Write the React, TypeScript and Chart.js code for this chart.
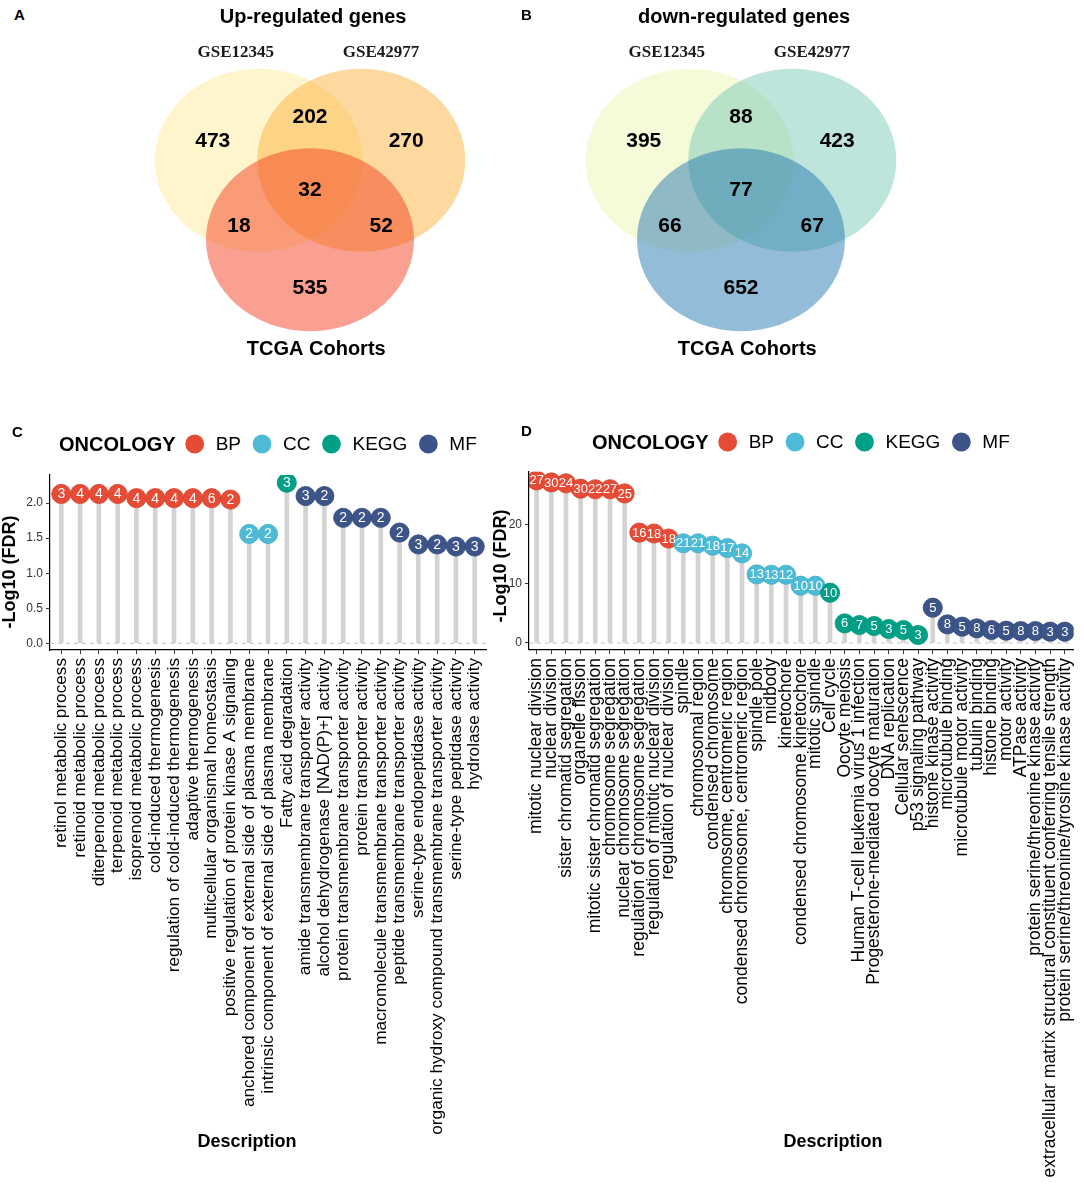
import React, { useEffect, useRef } from "react";
import { Chart, registerables } from "chart.js";
Chart.register(...registerables);

const SANS = '"Liberation Sans", Arial, Helvetica, sans-serif';
const SERIF = '"Liberation Serif", "Times New Roman", serif';

// ---------- Venn data ----------
const vennSetNames = ["GSE12345", "GSE42977", "TCGA Cohorts"];
// region order: only1, 1∩2, only2, 1∩2∩3, 1∩3, 2∩3, only3
const upRegionCounts = [473, 202, 270, 32, 18, 52, 535];
const downRegionCounts = [395, 88, 423, 77, 66, 67, 652];

// ---------- Enrichment data ----------
const categories = ["BP", "CC", "KEGG", "MF"];
const categoryColors = ["#E64B35", "#4DBBD5", "#00A087", "#3C5488"];
const categoryEdge = ["#D8402C", "#43AFC9", "#00937B", "#334A7C"];

const upTerms = [
  "retinol metabolic process",
  "retinoid metabolic process",
  "diterpenoid metabolic process",
  "terpenoid metabolic process",
  "isoprenoid metabolic process",
  "cold-induced thermogenesis",
  "regulation of cold-induced thermogenesis",
  "adaptive thermogenesis",
  "multicellular organismal homeostasis",
  "positive regulation of protein kinase A signaling",
  "anchored component of external side of plasma membrane",
  "intrinsic component of external side of plasma membrane",
  "Fatty acid degradation",
  "amide transmembrane transporter activity",
  "alcohol dehydrogenase [NAD(P)+] activity",
  "protein transmembrane transporter activity",
  "protein transporter activity",
  "macromolecule transmembrane transporter activity",
  "peptide transmembrane transporter activity",
  "serine-type endopeptidase activity",
  "organic hydroxy compound transmembrane transporter activity",
  "serine-type peptidase activity",
  "hydrolase activity",
];
const upCategory = [
  "BP", "BP", "BP", "BP", "BP", "BP", "BP", "BP", "BP", "BP",
  "CC", "CC",
  "KEGG",
  "MF", "MF", "MF", "MF", "MF", "MF", "MF", "MF", "MF", "MF",
];
const upLog10FDR = [
  2.13, 2.13, 2.13, 2.13, 2.07, 2.07, 2.07, 2.07, 2.07, 2.05,
  1.56, 1.56,
  2.29,
  2.1, 2.1, 1.79, 1.79, 1.79, 1.58, 1.41, 1.41, 1.38, 1.38,
];
const upGeneCount = [3, 4, 4, 4, 4, 4, 4, 4, 6, 2, 2, 2, 3, 3, 2, 2, 2, 2, 2, 3, 2, 3, 3];

const downTerms = [
  "mitotic nuclear division",
  "nuclear division",
  "sister chromatid segregation",
  "organelle fission",
  "mitotic sister chromatid segregation",
  "chromosome segregation",
  "nuclear chromosome segregation",
  "regulation of chromosome segregation",
  "regulation of mitotic nuclear division",
  "regulation of nuclear division",
  "spindle",
  "chromosomal region",
  "condensed chromosome",
  "chromosome, centromeric region",
  "condensed chromosome, centromeric region",
  "spindle pole",
  "midbody",
  "kinetochore",
  "condensed chromosome kinetochore",
  "mitotic spindle",
  "Cell cycle",
  "Oocyte meiosis",
  "Human T-cell leukemia virus 1 infection",
  "Progesterone-mediated oocyte maturation",
  "DNA replication",
  "Cellular senescence",
  "p53 signaling pathway",
  "histone kinase activity",
  "microtubule binding",
  "microtubule motor activity",
  "tubulin binding",
  "histone binding",
  "motor activity",
  "ATPase activity",
  "protein serine/threonine kinase activity",
  "extracellular matrix structural constituent conferring tensile strength",
  "protein serine/threonine/tyrosine kinase activity",
];
const downCategory = [
  "BP", "BP", "BP", "BP", "BP", "BP", "BP", "BP", "BP", "BP",
  "CC", "CC", "CC", "CC", "CC", "CC", "CC", "CC", "CC", "CC",
  "KEGG", "KEGG", "KEGG", "KEGG", "KEGG", "KEGG", "KEGG",
  "MF", "MF", "MF", "MF", "MF", "MF", "MF", "MF", "MF", "MF",
];
const downLog10FDR = [
  27.4, 27.05, 26.9, 26.0, 25.9, 25.9, 25.2, 18.6, 18.45, 17.6,
  16.8, 16.8, 16.4, 16.0, 15.1, 11.56, 11.5, 11.5, 9.65, 9.65,
  8.47, 3.3, 3.03, 2.86, 2.36, 2.19, 1.35,
  5.95, 3.14, 2.75, 2.47, 2.19, 2.08, 2.02, 2.02, 1.91, 1.91,
];
const downGeneCount = [
  27, 30, 24, 30, 22, 27, 25, 16, 18, 18,
  21, 21, 18, 17, 14, 13, 13, 12, 10, 10,
  10, 6, 7, 5, 3, 5, 3,
  5, 8, 5, 8, 6, 5, 8, 8, 3, 3,
];

const upYTicks = [0, 0.5, 1, 1.5, 2];
const downYTicks = [0, 10, 20];

// ---------- Venn layout (unit circle coordinates) ----------
const VENN_R = 1;
const VENN_CENTERS = [
  [-0.493, 0.434],
  [0.493, 0.434],
  [0, -0.434],
];
const VENN_REGION_POS = [
  [-0.935, 0.658],
  [0, 0.921],
  [0.925, 0.658],
  [0, 0.123],
  [-0.683, -0.28],
  [0.684, -0.28],
  [0, -0.948],
];
const VENN_NAME_POS = [
  [-0.713, 1.612],
  [0.683, 1.612],
  [0.06, -1.615],
];
const VENN_TITLE_POS = [0.03, 2.01];

type VennProps = {
  left: number;
  width: number;
  height: number;
  pxX: number;
  pxY: number;
  counts: number[];
  fills: string[];
  title: string;
};

function VennChart(p: VennProps) {
  const ref = useRef<HTMLCanvasElement>(null);
  useEffect(() => {
    if (!ref.current) return;
    const xHalf = p.width / 2 / p.pxX;
    const yHalf = p.height / 2 / p.pxY;
    const vennPlugin = {
      id: "vennDraw",
      afterDatasetsDraw(chart: any) {
        const { ctx } = chart;
        const xs = chart.scales.x;
        const ys = chart.scales.y;
        ctx.save();
        const circles = chart.getDatasetMeta(0).data;
        circles.forEach((el: any, i: number) => {
          const d = chart.data.datasets[0].data[i];
          const rx = Math.abs(xs.getPixelForValue(d.x + VENN_R) - el.x);
          const ry = Math.abs(ys.getPixelForValue(d.y + VENN_R) - el.y);
          ctx.beginPath();
          ctx.ellipse(el.x, el.y, rx, ry, 0, 0, Math.PI * 2);
          ctx.fillStyle = p.fills[i];
          ctx.fill();
        });
        ctx.fillStyle = "#000";
        ctx.textAlign = "center";
        ctx.textBaseline = "middle";
        ctx.font = "bold 21px " + SANS;
        chart.getDatasetMeta(1).data.forEach((el: any, i: number) => {
          ctx.fillText(String(p.counts[i]), el.x, el.y + 1);
        });
        chart.getDatasetMeta(2).data.forEach((el: any, i: number) => {
          ctx.font = i < 2 ? "bold 17px " + SERIF : "bold 20px " + SANS;
          ctx.fillStyle = i < 2 ? "#1a1a1a" : "#000";
          ctx.fillText(vennSetNames[i], el.x, el.y + (i < 2 ? 0 : 1.5));
        });
        ctx.fillStyle = "#000";
        ctx.font = "bold 20px " + SANS;
        ctx.fillText(
          p.title,
          xs.getPixelForValue(VENN_TITLE_POS[0]),
          ys.getPixelForValue(VENN_TITLE_POS[1]) + 1
        );
        ctx.restore();
      },
    };
    const chart = new Chart(ref.current, {
      type: "scatter",
      data: {
        datasets: [
          { data: VENN_CENTERS.map(([x, y]) => ({ x, y })), pointRadius: 0 },
          { data: VENN_REGION_POS.map(([x, y]) => ({ x, y })), pointRadius: 0 },
          { data: VENN_NAME_POS.map(([x, y]) => ({ x, y })), pointRadius: 0 },
        ],
      },
      options: {
        animation: false,
        responsive: false,
        maintainAspectRatio: false,
        events: [],
        layout: { padding: 0 },
        plugins: { legend: { display: false }, tooltip: { enabled: false } },
        scales: {
          x: { type: "linear", display: false, min: -xHalf, max: xHalf },
          y: { type: "linear", display: false, min: -yHalf, max: yHalf },
        },
      },
      plugins: [vennPlugin],
    } as any);
    return () => chart.destroy();
  }, []);
  return (
    <canvas
      ref={ref}
      width={p.width}
      height={p.height}
      style={{ position: "absolute", left: p.left, top: 0, width: p.width, height: p.height }}
    />
  );
}

type LolliProps = {
  left: number;
  top: number;
  width: number;
  height: number;
  areaLeft: number;
  areaRight: number;
  areaTop: number;
  areaBottom: number;
  terms: string[];
  cats: string[];
  values: number[];
  counts: number[];
  xMin: number;
  xMax: number;
  yMin: number;
  yMax: number;
  yTicks: number[];
  yDigits: number;
  labelFont: number;
  countFont: number;
  legendX: number;
  legendY: number;
  yTitleX: number;
  yTitleY: number;
  xTitleX: number;
  xTitleY: number;
};

function LollipopChart(p: LolliProps) {
  const ref = useRef<HTMLCanvasElement>(null);
  useEffect(() => {
    if (!ref.current) return;
    const yAxisW = p.areaLeft - p.left;
    const xAxisH = p.top + p.height - p.areaBottom;
    const padTop = p.areaTop - p.top;
    const padRight = p.left + p.width - p.areaRight;
    const colors = p.cats.map((c) => categoryColors[categories.indexOf(c)]);
    const edges = p.cats.map((c) => categoryEdge[categories.indexOf(c)]);
    const pts = p.values.map((v, i) => ({ x: i, y: v }));
    const extras = {
      id: "lolliExtras",
      afterDatasetsDraw(chart: any) {
        const ctx = chart.ctx;
        const meta = chart.getDatasetMeta(2);
        ctx.save();
        ctx.fillStyle = "#fff";
        ctx.font = p.countFont + "px " + SANS;
        ctx.textAlign = "center";
        ctx.textBaseline = "middle";
        meta.data.forEach((el: any, i: number) => {
          ctx.fillText(String(p.counts[i]), el.x, el.y + 0.5);
        });
        ctx.restore();
      },
      afterDraw(chart: any) {
        const ctx = chart.ctx;
        ctx.save();
        ctx.textBaseline = "middle";
        ctx.textAlign = "left";
        ctx.fillStyle = "#000";
        ctx.font = "bold 20px " + SANS;
        let x = p.legendX - p.left;
        const y = p.legendY - p.top;
        ctx.fillText("ONCOLOGY", x, y + 1);
        x += ctx.measureText("ONCOLOGY").width + 19;
        ctx.font = "19px " + SANS;
        categories.forEach((c, i) => {
          ctx.beginPath();
          ctx.arc(x, y, 9.4, 0, Math.PI * 2);
          ctx.fillStyle = categoryColors[i];
          ctx.fill();
          ctx.fillStyle = "#000";
          const tx = x + 21;
          ctx.fillText(c, tx, y + 1);
          x = tx + ctx.measureText(c).width + 21;
        });
        ctx.font = "bold 18px " + SANS;
        ctx.textAlign = "center";
        ctx.fillText("Description", p.xTitleX - p.left, p.xTitleY - p.top);
        ctx.translate(p.yTitleX - p.left, p.yTitleY - p.top);
        ctx.rotate(-Math.PI / 2);
        ctx.fillText("-Log10 (FDR)", 0, 0);
        ctx.restore();
      },
    };
    const chart = new Chart(ref.current, {
      type: "scatter",
      data: {
        datasets: [
          {
            type: "line",
            data: [
              { x: p.xMin, y: 0 },
              { x: p.xMax, y: 0 },
            ],
            borderColor: "#C4C4C4",
            borderWidth: 1,
            borderDash: [4, 4],
            pointRadius: 0,
            order: 3,
          },
          {
            type: "bar",
            data: pts,
            backgroundColor: "#D3D3D3",
            barThickness: 4,
            order: 2,
          },
          {
            type: "scatter",
            data: pts,
            pointRadius: 9.6,
            pointBackgroundColor: colors,
            pointBorderColor: edges,
            pointBorderWidth: 0.8,
            order: 1,
          },
        ],
      },
      options: {
        animation: false,
        responsive: false,
        maintainAspectRatio: false,
        events: [],
        layout: { padding: { top: padTop, right: padRight, left: 0, bottom: 0 } },
        plugins: { legend: { display: false }, tooltip: { enabled: false } },
        scales: {
          x: {
            type: "linear",
            min: p.xMin,
            max: p.xMax,
            offset: false,
            afterBuildTicks: (axis: any) => {
              axis.ticks = p.terms.map((_, i) => ({ value: i }));
            },
            afterFit: (axis: any) => {
              axis.height = xAxisH;
              axis.paddingLeft = 0;
              axis.paddingRight = 0;
            },
            ticks: {
              autoSkip: false,
              maxRotation: 90,
              minRotation: 90,
              padding: 4,
              color: "#000",
              font: { family: SANS, size: p.labelFont },
              callback: (v: any) => p.terms[v] ?? "",
            },
            grid: {
              display: true,
              drawOnChartArea: false,
              drawTicks: true,
              tickLength: 4,
              color: "#333",
              offset: false,
            },
            border: { display: true, color: "#000", width: 1.2 },
          },
          y: {
            type: "linear",
            min: p.yMin,
            max: p.yMax,
            afterBuildTicks: (axis: any) => {
              axis.ticks = p.yTicks.map((v) => ({ value: v }));
            },
            afterFit: (axis: any) => {
              axis.width = yAxisW;
            },
            ticks: {
              padding: 3,
              color: "#333",
              font: { family: SANS, size: 12 },
              callback: (v: any) => Number(v).toFixed(p.yDigits),
            },
            grid: {
              display: true,
              drawOnChartArea: false,
              drawTicks: true,
              tickLength: 4,
              color: "#333",
            },
            border: { display: true, color: "#000", width: 1.2 },
          },
        },
      },
      plugins: [extras],
    } as any);
    return () => chart.destroy();
  }, []);
  return (
    <canvas
      ref={ref}
      width={p.width}
      height={p.height}
      style={{ position: "absolute", left: p.left, top: p.top, width: p.width, height: p.height }}
    />
  );
}

const letterStyle = (left: number, top: number): React.CSSProperties => ({
  position: "absolute",
  left,
  top,
  fontFamily: SANS,
  fontWeight: "bold",
  fontSize: 15,
  lineHeight: "15px",
  color: "#000",
});

export default function App() {
  return (
    <div
      style={{
        position: "absolute",
        left: 0,
        top: 0,
        width: 1084,
        height: 1188,
        background: "#fff",
        overflow: "hidden",
      }}
    >
      <VennChart
        left={100}
        width={420}
        height={400}
        pxX={104}
        pxY={91.5}
        counts={upRegionCounts}
        fills={["rgba(255,235,153,0.5)", "rgba(251,179,65,0.5)", "rgba(243,65,33,0.5)"]}
        title="Up-regulated genes"
      />
      <VennChart
        left={531}
        width={420}
        height={400}
        pxX={104}
        pxY={91.5}
        counts={downRegionCounts}
        fills={["rgba(235,245,177,0.5)", "rgba(123,203,183,0.5)", "rgba(39,121,179,0.5)"]}
        title="down-regulated genes"
      />
      <LollipopChart
        left={0}
        top={420}
        width={505}
        height={768}
        areaLeft={50}
        areaRight={486}
        areaTop={475}
        areaBottom={650}
        terms={upTerms}
        cats={upCategory}
        values={upLog10FDR}
        counts={upGeneCount}
        xMin={-0.6}
        xMax={22.6}
        yMin={-0.095}
        yMax={2.4}
        yTicks={upYTicks}
        yDigits={1}
        labelFont={17.2}
        countFont={14}
        legendX={59}
        legendY={444}
        yTitleX={10}
        yTitleY={572}
        xTitleX={247}
        xTitleY={1142}
      />
      <LollipopChart
        left={485}
        top={420}
        width={599}
        height={768}
        areaLeft={529}
        areaRight={1079.5}
        areaTop={471.7}
        areaBottom={650}
        terms={downTerms}
        cats={downCategory}
        values={downLog10FDR}
        counts={downGeneCount}
        xMin={-0.52}
        xMax={36.6}
        yMin={-1.18}
        yMax={28.86}
        yTicks={downYTicks}
        yDigits={0}
        labelFont={17.5}
        countFont={13}
        legendX={592}
        legendY={442}
        yTitleX={501}
        yTitleY={566}
        xTitleX={833}
        xTitleY={1142}
      />
      <div style={letterStyle(14, 7)}>A</div>
      <div style={letterStyle(521, 7)}>B</div>
      <div style={letterStyle(12, 424)}>C</div>
      <div style={letterStyle(521, 423)}>D</div>
    </div>
  );
}
